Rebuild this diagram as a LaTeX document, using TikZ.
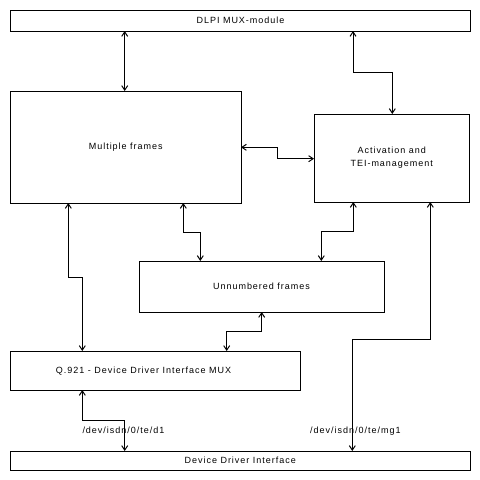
\documentclass[tikz,border=0pt]{standalone}
\usepackage{fontspec}
\setmainfont{Liberation Sans}[LetterSpace=11]
\usetikzlibrary{arrows.meta}
\begin{document}
\begin{tikzpicture}[x=1pt,y=-1pt,
  box/.style={draw,line width=1pt,inner sep=0pt,outer sep=0pt,anchor=north west,font=\fontsize{9}{12.7}\selectfont,align=center},
  lbl/.style={inner sep=0pt,font=\fontsize{9}{12.7}\selectfont},
  conn/.style={line width=1pt,{Straight Barb[length=4.5pt,width=6pt]}-{Straight Barb[length=4.5pt,width=6pt]}}]
\useasboundingbox (0,0) rectangle (480,480);
\node[box,minimum width=460pt,minimum height=21pt] (dlpi) at (10.5,10) {DLPI MUX-module};
\node[box,minimum width=230.5pt,minimum height=112pt] (mf) at (10.5,91) {Multiple frames};
\node[box,minimum width=155.5pt,minimum height=88pt] (act) at (314,114) {Activation and\\TEI-management};
\node[box,minimum width=245pt,minimum height=51pt] (un) at (139,261) {Unnumbered frames};
\node[box,minimum width=289.5pt,minimum height=39pt] (q) at (10.5,351) {};
\node[lbl] (qt) at (143.5,370.7) {Q.921 - Device Driver Interface MUX};
\node[box,minimum width=459.5pt,minimum height=19pt] (ddi) at (10.5,451) {Device Driver Interface};
\node[lbl,anchor=base west] (d1) at (82.3,433.5) {/dev/isdn/0/te/d1};
\node[lbl,anchor=base west] (mg1) at (310,433.5) {/dev/isdn/0/te/mg1};
% connectors
\draw[conn] (124.7,0 |- dlpi.south) -- (124.7,0 |- mf.north);
\draw[conn] (353,0 |- dlpi.south) -- (353,72.7) -- (392.3,72.7) -- (392.3,0 |- act.north);
\draw[conn] (mf.east |- 0,147.3) -- (277.3,147.3) -- (277.3,158.7) -- (act.west |- 0,158.7);
\draw[conn] (68.3,0 |- mf.south) -- (68.3,277.3) -- (82.3,277.3) -- (82.3,0 |- q.north);
\draw[conn] (183.3,0 |- mf.south) -- (183.3,232.3) -- (200.3,232.3) -- (200.3,0 |- un.north);
\draw[conn] (353.3,0 |- act.south) -- (353.3,231.3) -- (321.3,231.3) -- (321.3,0 |- un.north);
\draw[conn] (261.7,0 |- un.south) -- (261.7,331.7) -- (226.7,331.7) -- (226.7,0 |- q.north);
\draw[conn] (430.3,0 |- act.south) -- (430.3,339) -- (352.3,339) -- (352.3,0 |- ddi.north);
\draw[conn] (82.3,0 |- q.south) -- (82.3,420) -- (124.7,420) -- (124.7,0 |- ddi.north);
\end{tikzpicture}
\end{document}
